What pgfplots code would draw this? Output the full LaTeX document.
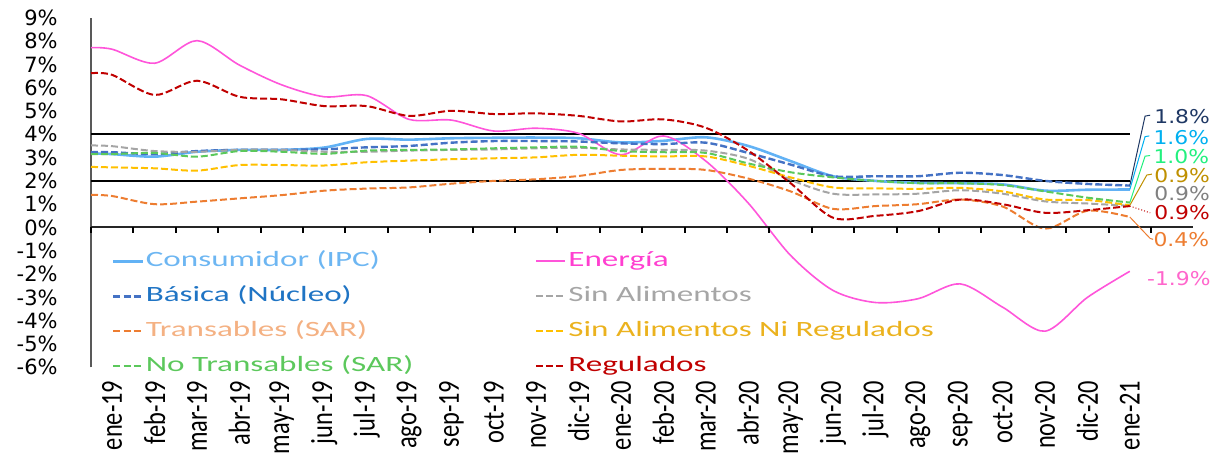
\documentclass[border=0pt]{standalone}
\usepackage{fontspec}
\setmainfont{DejaVu Sans}
\newfontfamily\legfont{Carlito}[FakeStretch=1.52]
\newfontfamily\xlabfont{Carlito}
\newfontfamily\rlabfont{DejaVu Sans}[FakeStretch=1.15]
\usepackage{pgfplots}
\pgfplotsset{compat=1.18}
\definecolor{cIPC}{HTML}{62B2F5}
\definecolor{tIPC}{HTML}{6DB6F2}
\definecolor{cBas}{HTML}{4472C4}
\definecolor{tBas}{HTML}{1F74C4}
\definecolor{cTra}{HTML}{ED7D31}
\definecolor{tTra}{HTML}{F4B183}
\definecolor{cNoT}{HTML}{5BC85B}
\definecolor{tNoT}{HTML}{5CC85C}
\definecolor{cEne}{HTML}{FF55DA}
\definecolor{tEne}{HTML}{FF3FD0}
\definecolor{cSA}{HTML}{A5A5A5}
\definecolor{tSA}{HTML}{A6A6A6}
\definecolor{cSANR}{HTML}{FFC000}
\definecolor{tSANR}{HTML}{EBB21E}
\definecolor{cReg}{HTML}{C00000}
\definecolor{l18}{HTML}{1F3864}
\definecolor{l16}{HTML}{00B0F0}
\definecolor{l10}{HTML}{22F07E}
\definecolor{lgold}{HTML}{BF9000}
\definecolor{lgray}{HTML}{808080}
\definecolor{lpink}{HTML}{FF66CC}
\newcommand{\xl}[1]{\scalebox{1}[1.25]{#1}}
\begin{document}
\begin{tikzpicture}
\useasboundingbox (0,0) rectangle (610.5pt,227pt);
\begin{axis}[
  at={(45.5pt,43.35pt)}, anchor=south west,
  scale only axis, width=530pt, height=174.75pt,
  xmin=0, xmax=25, ymin=-6, ymax=9,
  clip=false,
  axis x line*=bottom, axis y line*=left,
  x axis line style={draw=none},
  y axis line style={draw=black!65, line width=0.75pt},
  xtick={0.5,1.5,...,24.5},
  xticklabels={\xl{ene-19},\xl{feb-19},\xl{mar-19},\xl{abr-19},\xl{may-19},\xl{jun-19},\xl{jul-19},\xl{ago-19},\xl{sep-19},\xl{oct-19},\xl{nov-19},\xl{dic-19},\xl{ene-20},\xl{feb-20},\xl{mar-20},\xl{abr-20},\xl{may-20},\xl{jun-20},\xl{jul-20},\xl{ago-20},\xl{sep-20},\xl{oct-20},\xl{nov-20},\xl{dic-20},\xl{ene-21}},
  xticklabel style={rotate=90, anchor=east, inner xsep=6.5pt, inner ysep=0pt, font=\xlabfont\fontsize{12.2}{14}\selectfont},
  ytick={-6,-5,-4,-3,-2,-1,0,1,2,3,4,5,6,7,8,9},
  yticklabels={-6\%,-5\%,-4\%,-3\%,-2\%,-1\%,0\%,1\%,2\%,3\%,4\%,5\%,6\%,7\%,8\%,9\%},
  yticklabel style={anchor=east, inner sep=0pt, xshift=-16.5pt, font=\fontsize{10.5}{12}\selectfont},
  major tick length=0pt,
  legend columns=2,
  legend cell align=left,
  legend style={at={(axis cs:0.5,-0.92)}, anchor=north west, draw=none, fill=none,
    inner sep=0pt, outer sep=0pt, row sep=5pt,
    font=\legfont\fontsize{10.9}{12}\selectfont,
    nodes={inner sep=1pt, text height=8pt, text depth=2.5pt},
    /tikz/every even column/.append style={column sep=60pt}},
  legend image code/.code={\draw[#1] (0pt,0pt) -- (14.5pt,0pt);},
]
\addplot[black, line width=1pt, forget plot] coordinates {(0,4) (24.5,4)};
\addplot[black, line width=1pt, forget plot] coordinates {(0,2) (24.5,2)};

\addplot[cIPC, line width=1.3pt, smooth] coordinates {(0,3.18) (0.5,3.15) (1.5,3.04) (2.5,3.25) (3.5,3.33) (4.5,3.33) (5.5,3.43) (6.5,3.8) (7.5,3.77) (8.5,3.83) (9.5,3.85) (10.5,3.86) (11.5,3.83) (12.5,3.65) (13.5,3.72) (14.5,3.87) (15.5,3.5) (16.5,2.85) (17.5,2.2) (18.5,2.0) (19.5,1.92) (20.5,1.9) (21.5,1.85) (22.5,1.58) (23.5,1.62) (24.5,1.63)};
\addlegendentry{\textcolor{tIPC}{Consumidor (IPC)}}

\addplot[cEne, line width=0.8pt, smooth, legend image post style={draw=cEne, line width=1pt}] coordinates {(0,7.72) (0.5,7.65) (1.5,7.05) (2.5,8.02) (3.5,6.97) (4.5,6.12) (5.5,5.61) (6.5,5.66) (7.5,4.64) (8.5,4.61) (9.5,4.14) (10.5,4.26) (11.5,4.04) (12.5,3.12) (13.5,3.93) (14.5,2.85) (15.5,1.05) (16.5,-1.2) (17.5,-2.7) (18.5,-3.22) (19.5,-3.06) (20.5,-2.42) (21.5,-3.42) (22.5,-4.45) (23.5,-3.0) (24.5,-1.88)};
\addlegendentry{\textcolor{tEne}{Energía}}

\addplot[cBas, line width=1.2pt, dash pattern=on 3.5pt off 1.5pt, smooth] coordinates {(0,3.23) (0.5,3.23) (1.5,3.15) (2.5,3.28) (3.5,3.33) (4.5,3.33) (5.5,3.36) (6.5,3.44) (7.5,3.5) (8.5,3.64) (9.5,3.71) (10.5,3.71) (11.5,3.69) (12.5,3.61) (13.5,3.58) (14.5,3.64) (15.5,3.2) (16.5,2.7) (17.5,2.2) (18.5,2.2) (19.5,2.2) (20.5,2.35) (21.5,2.25) (22.5,2.0) (23.5,1.87) (24.5,1.8)};
\addlegendentry{\textcolor{tBas}{Básica (Núcleo)}}

\addplot[cSA, line width=1pt, dash pattern=on 3.5pt off 1.5pt, smooth] coordinates {(0,3.52) (0.5,3.49) (1.5,3.28) (2.5,3.25) (3.5,3.33) (4.5,3.33) (5.5,3.25) (6.5,3.25) (7.5,3.3) (8.5,3.33) (9.5,3.35) (10.5,3.4) (11.5,3.42) (12.5,3.35) (13.5,3.33) (14.5,3.3) (15.5,2.95) (16.5,2.05) (17.5,1.45) (18.5,1.42) (19.5,1.45) (20.5,1.6) (21.5,1.45) (22.5,1.12) (23.5,1.03) (24.5,0.93)};
\addlegendentry{\textcolor{tSA}{Sin Alimentos}}

\addplot[cTra, line width=1pt, dash pattern=on 3.5pt off 1.5pt, smooth] coordinates {(0,1.4) (0.5,1.35) (1.5,1.0) (2.5,1.11) (3.5,1.25) (4.5,1.39) (5.5,1.58) (6.5,1.67) (7.5,1.72) (8.5,1.88) (9.5,2.0) (10.5,2.07) (11.5,2.21) (12.5,2.47) (13.5,2.52) (14.5,2.47) (15.5,2.1) (16.5,1.55) (17.5,0.8) (18.5,0.92) (19.5,1.0) (20.5,1.2) (21.5,0.9) (22.5,-0.05) (23.5,0.72) (24.5,0.45)};
\addlegendentry{\textcolor{tTra}{Transables (SAR)}}

\addplot[cSANR, line width=1pt, dash pattern=on 3.5pt off 1.5pt, smooth] coordinates {(0,2.6) (0.5,2.58) (1.5,2.54) (2.5,2.44) (3.5,2.68) (4.5,2.68) (5.5,2.66) (6.5,2.8) (7.5,2.87) (8.5,2.93) (9.5,2.97) (10.5,3.01) (11.5,3.12) (12.5,3.08) (13.5,3.05) (14.5,3.05) (15.5,2.65) (16.5,2.15) (17.5,1.72) (18.5,1.68) (19.5,1.66) (20.5,1.7) (21.5,1.55) (22.5,1.2) (23.5,1.18) (24.5,0.95)};
\addlegendentry{\textcolor{tSANR}{Sin Alimentos Ni Regulados}}

\addplot[cNoT, line width=1pt, dash pattern=on 3.5pt off 1.5pt, smooth] coordinates {(0,3.15) (0.5,3.15) (1.5,3.2) (2.5,3.04) (3.5,3.28) (4.5,3.25) (5.5,3.16) (6.5,3.3) (7.5,3.33) (8.5,3.35) (9.5,3.4) (10.5,3.44) (11.5,3.47) (12.5,3.28) (13.5,3.23) (14.5,3.2) (15.5,2.75) (16.5,2.37) (17.5,2.15) (18.5,2.0) (19.5,1.9) (20.5,1.9) (21.5,1.82) (22.5,1.55) (23.5,1.28) (24.5,1.07)};
\addlegendentry{\textcolor{tNoT}{No Transables (SAR)}}

\addplot[cReg, line width=1pt, dash pattern=on 3.5pt off 1.5pt, smooth] coordinates {(0,6.62) (0.5,6.55) (1.5,5.69) (2.5,6.3) (3.5,5.61) (4.5,5.5) (5.5,5.21) (6.5,5.21) (7.5,4.79) (8.5,5.01) (9.5,4.87) (10.5,4.9) (11.5,4.79) (12.5,4.55) (13.5,4.64) (14.5,4.28) (15.5,3.3) (16.5,1.9) (17.5,0.42) (18.5,0.5) (19.5,0.7) (20.5,1.2) (21.5,1.0) (22.5,0.63) (23.5,0.74) (24.5,0.92)};
\addlegendentry{\textcolor{cReg}{Regulados}}

% zero axis line and category ticks
\draw[black!85, line width=1pt] (axis cs:0,0) -- (axis cs:26,0);
\pgfplotsinvokeforeach{0,...,25}{\draw[black, line width=1pt] (axis cs:#1,0) -- ++(0pt,-3pt);}

% leader lines
\draw[l18, line width=0.5pt] (axis cs:24.5,1.8) -- (axis cs:24.86,4.78) -- (axis cs:24.98,4.82);
\draw[l16, line width=0.5pt] (axis cs:24.5,1.63) -- (axis cs:24.86,3.9) -- (axis cs:24.96,3.93);
\draw[l10, line width=0.5pt] (axis cs:24.5,1.07) -- (axis cs:24.86,3.06) -- (axis cs:24.98,3.09);
\draw[lgold, line width=0.5pt] (axis cs:24.5,0.95) -- (axis cs:24.9,2.25) -- (axis cs:25.02,2.29);
\draw[cReg, line width=0.5pt, densely dotted] (axis cs:24.5,0.92) -- (axis cs:24.98,0.63);
\draw[cTra, line width=0.5pt] (axis cs:24.5,0.45) -- (axis cs:24.98,-0.47) -- (axis cs:25.05,-0.51);

% end labels
\begin{scope}[every node/.style={anchor=west, inner sep=0pt, font=\rlabfont\fontsize{9.5}{11}\selectfont}]
\node[text=l18] at (axis cs:25.07,4.74) {1.8\%};
\node[text=l16] at (axis cs:25.05,3.84) {1.6\%};
\node[text=l10] at (axis cs:25.05,3.03) {1.0\%};
\node[text=lgold] at (axis cs:25.07,2.21) {0.9\%};
\node[text=lgray] at (axis cs:25.07,1.44) {0.9\%};
\node[text=cReg] at (axis cs:25.07,0.62) {0.9\%};
\node[text=cTra] at (axis cs:25.05,-0.54) {0.4\%};
\node[text=lpink] at (axis cs:24.9,-2.21) {-1.9\%};
\end{scope}
\end{axis}
\end{tikzpicture}
\end{document}
